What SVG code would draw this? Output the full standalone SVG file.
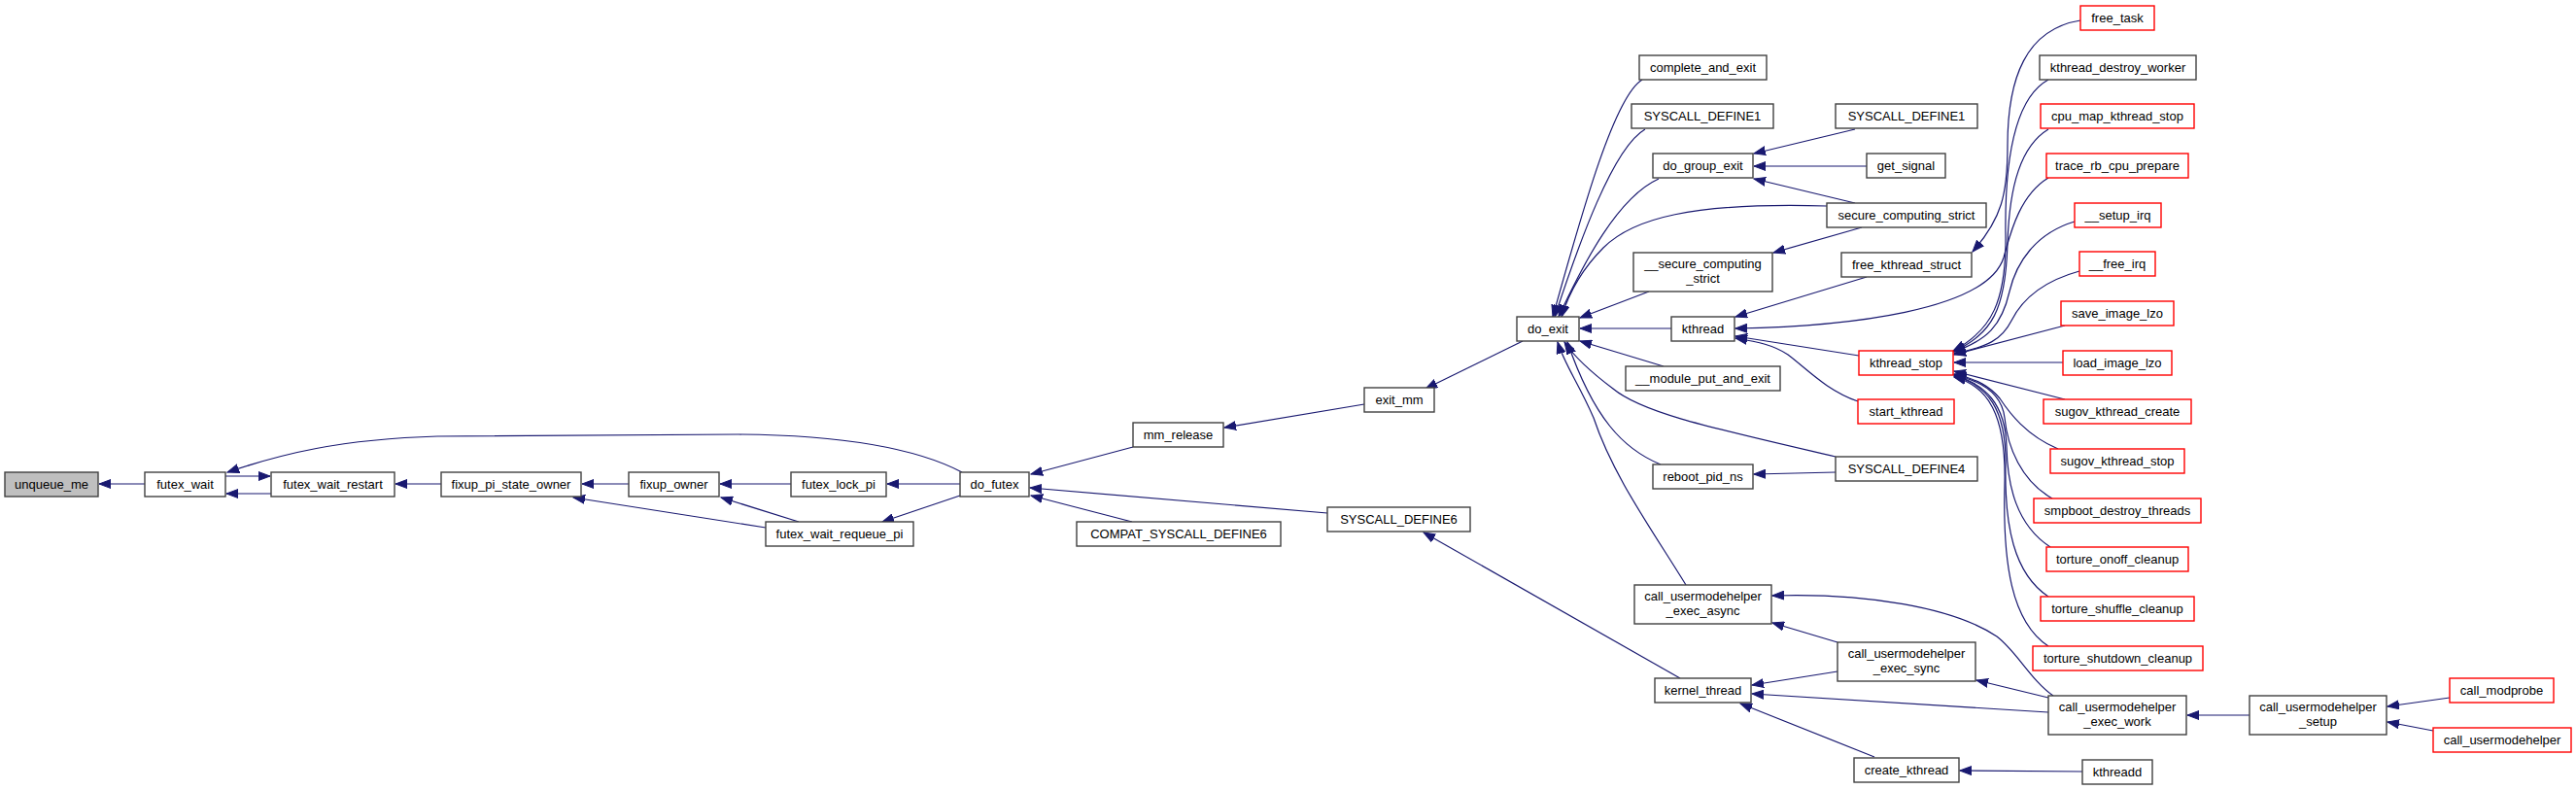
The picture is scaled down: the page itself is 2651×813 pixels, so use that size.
<svg xmlns="http://www.w3.org/2000/svg" width="2651" height="813" viewBox="0 0 2651 813">
<style>
.n rect{fill:#fff;stroke:#404040;stroke-width:1.4}
.n.r rect{stroke:#ff0000}
.n.g rect{fill:#bfbfbf}
.n text{font-family:"Liberation Sans",Arial,sans-serif;font-size:13px;fill:#000;text-anchor:middle}
#edges path{fill:none;stroke:#191970;stroke-width:1.2;marker-end:url(#ah)}
</style>
<defs>
<marker id="ah" markerUnits="userSpaceOnUse" markerWidth="13" markerHeight="10" refX="12" refY="5" orient="auto">
<path d="M0,0.5 L12,5 L0,9.5 z" fill="#191970" stroke="#191970" stroke-width="1"/>
</marker>
</defs>
<rect width="2651" height="813" fill="#fff"/>
<g id="edges">
<path d="M149,498 L102,498"/>
<path d="M232,490 L278,490"/>
<path d="M279,508 L233,508"/>
<path d="M990,486 C950,465 880,448 760,447 L450,449 C350,452 290,467 234,486"/>
<path d="M454,498 L407,498"/>
<path d="M647,498 L599,498"/>
<path d="M788,543 L590,512"/>
<path d="M822,537 L742,512"/>
<path d="M814,498 L741,498"/>
<path d="M988,498 L913,498"/>
<path d="M988,510 L908,537"/>
<path d="M1166,460 L1061,488"/>
<path d="M1165,537 L1061,510"/>
<path d="M1366,528 L1060,502"/>
<path d="M1404,416 L1260,440"/>
<path d="M1567,351 L1467,400"/>
<path d="M1729,698 L1465,548"/>
<path d="M1690,82 C1660,100 1625,230 1598,326"/>
<path d="M1693,133 C1660,152 1625,250 1600,326"/>
<path d="M1707,184 C1665,203 1630,270 1604,326"/>
<path d="M1880,212 C1740,208 1680,225 1650,255 C1630,275 1615,300 1607,326"/>
<path d="M1697,300 L1626,327"/>
<path d="M1720,338 L1626,338"/>
<path d="M1712,377 L1626,351"/>
<path d="M1709,478 C1670,462 1640,430 1613,352"/>
<path d="M1889,470 C1760,440 1690,425 1660,400 C1640,385 1622,370 1610,352"/>
<path d="M1735,602 C1700,545 1660,490 1640,430 C1625,395 1610,375 1603,352"/>
<path d="M1889,486 L1805,488"/>
<path d="M1909,133 L1805,158"/>
<path d="M1921,171 L1805,171"/>
<path d="M1909,209 L1805,184"/>
<path d="M1916,234 L1825,260"/>
<path d="M1921,285 L1786,326"/>
<path d="M2108,183 C2080,200 2070,235 2062,265 C2045,320 1900,336 1786,338"/>
<path d="M1913,366 L1786,346"/>
<path d="M1912,413 C1880,402 1860,380 1840,365 C1825,355 1810,352 1786,348"/>
<path d="M2141,21 C2085,30 2066,80 2066,150 C2066,200 2060,225 2030,259"/>
<path d="M2108,82 C2075,100 2063,160 2064,240 C2065,310 2050,340 2010,361"/>
<path d="M2108,133 C2080,150 2068,190 2066,250 C2064,320 2050,343 2010,362"/>
<path d="M2135,228 C2095,240 2075,270 2068,300 C2060,335 2045,350 2011,362"/>
<path d="M2140,279 C2100,290 2080,310 2070,330 C2060,350 2045,357 2011,364"/>
<path d="M2125,335 L2011,365"/>
<path d="M2123,373 L2011,373"/>
<path d="M2125,411 L2011,382"/>
<path d="M2118,462 C2085,448 2068,425 2058,410 C2048,398 2035,390 2011,385"/>
<path d="M2112,513 C2080,495 2066,460 2063,430 C2060,405 2040,392 2011,386"/>
<path d="M2110,563 C2075,540 2066,500 2065,460 C2064,415 2042,395 2011,386"/>
<path d="M2108,614 C2072,590 2063,540 2064,480 C2065,420 2045,396 2011,387"/>
<path d="M2108,665 C2070,640 2061,580 2063,500 C2065,425 2045,397 2011,388"/>
<path d="M2113,716 C2090,700 2075,670 2055,655 C2010,625 1920,610 1824,613"/>
<path d="M2108,718 L2034,700"/>
<path d="M2108,733 L1803,714"/>
<path d="M1891,691 L1803,705"/>
<path d="M1891,661 L1824,641"/>
<path d="M1929,779 L1791,724"/>
<path d="M2143,794 L2017,793"/>
<path d="M2315,736 L2251,736"/>
<path d="M2521,718 L2457,727"/>
<path d="M2504,752 L2457,743"/>
</g>
<g id="n_unqueue_me" class="n g"><rect x="5" y="486" width="96" height="25"/><text x="53" y="503">unqueue_me</text></g>
<g id="n_futex_wait" class="n"><rect x="149" y="486" width="83" height="25"/><text x="190.5" y="503">futex_wait</text></g>
<g id="n_futex_wait_restart" class="n"><rect x="279" y="486" width="127" height="25"/><text x="342.5" y="503">futex_wait_restart</text></g>
<g id="n_fixup_pi_state_owner" class="n"><rect x="454" y="486" width="144" height="25"/><text x="526" y="503">fixup_pi_state_owner</text></g>
<g id="n_fixup_owner" class="n"><rect x="647" y="486" width="93" height="25"/><text x="693.5" y="503">fixup_owner</text></g>
<g id="n_futex_lock_pi" class="n"><rect x="814" y="486" width="98" height="25"/><text x="863" y="503">futex_lock_pi</text></g>
<g id="n_futex_wait_requeue_pi" class="n"><rect x="788" y="537" width="152" height="25"/><text x="864" y="554">futex_wait_requeue_pi</text></g>
<g id="n_do_futex" class="n"><rect x="988" y="486" width="71" height="25"/><text x="1023.5" y="503">do_futex</text></g>
<g id="n_mm_release" class="n"><rect x="1166" y="435" width="93" height="25"/><text x="1212.5" y="452">mm_release</text></g>
<g id="n_compat_syscall_define6" class="n"><rect x="1108" y="537" width="210" height="25"/><text x="1213" y="554">COMPAT_SYSCALL_DEFINE6</text></g>
<g id="n_syscall_define6" class="n"><rect x="1366" y="522" width="147" height="25"/><text x="1439.5" y="539">SYSCALL_DEFINE6</text></g>
<g id="n_exit_mm" class="n"><rect x="1404" y="399" width="72" height="25"/><text x="1440" y="416">exit_mm</text></g>
<g id="n_do_exit" class="n"><rect x="1561" y="326" width="64" height="25"/><text x="1593" y="343">do_exit</text></g>
<g id="n_complete_and_exit" class="n"><rect x="1687" y="57" width="131" height="25"/><text x="1752.5" y="74">complete_and_exit</text></g>
<g id="n_syscall_define1_a" class="n"><rect x="1679" y="107" width="146" height="25"/><text x="1752" y="124">SYSCALL_DEFINE1</text></g>
<g id="n_do_group_exit" class="n"><rect x="1701" y="158" width="103" height="25"/><text x="1752.5" y="175">do_group_exit</text></g>
<g id="n___secure_computing_strict" class="n"><rect x="1681" y="260" width="143" height="40"/><text x="1752.5" y="276">__secure_computing</text><text x="1752.5" y="291">_strict</text></g>
<g id="n_kthread" class="n"><rect x="1720" y="326" width="65" height="25"/><text x="1752.5" y="343">kthread</text></g>
<g id="n___module_put_and_exit" class="n"><rect x="1673" y="377" width="159" height="25"/><text x="1752.5" y="394">__module_put_and_exit</text></g>
<g id="n_reboot_pid_ns" class="n"><rect x="1701" y="478" width="103" height="25"/><text x="1752.5" y="495">reboot_pid_ns</text></g>
<g id="n_call_usermodehelper_exec_async" class="n"><rect x="1682" y="602" width="141" height="40"/><text x="1752.5" y="618">call_usermodehelper</text><text x="1752.5" y="633">_exec_async</text></g>
<g id="n_kernel_thread" class="n"><rect x="1703" y="698" width="99" height="25"/><text x="1752.5" y="715">kernel_thread</text></g>
<g id="n_syscall_define1_b" class="n"><rect x="1889" y="107" width="146" height="25"/><text x="1962" y="124">SYSCALL_DEFINE1</text></g>
<g id="n_get_signal" class="n"><rect x="1921" y="158" width="81" height="25"/><text x="1961.5" y="175">get_signal</text></g>
<g id="n_secure_computing_strict" class="n"><rect x="1880" y="209" width="164" height="25"/><text x="1962" y="226">secure_computing_strict</text></g>
<g id="n_free_kthread_struct" class="n"><rect x="1895" y="260" width="134" height="25"/><text x="1962" y="277">free_kthread_struct</text></g>
<g id="n_kthread_stop" class="n r"><rect x="1913" y="361" width="97" height="25"/><text x="1961.5" y="378">kthread_stop</text></g>
<g id="n_start_kthread" class="n r"><rect x="1912" y="411" width="99" height="25"/><text x="1961.5" y="428">start_kthread</text></g>
<g id="n_syscall_define4" class="n"><rect x="1889" y="470" width="146" height="25"/><text x="1962" y="487">SYSCALL_DEFINE4</text></g>
<g id="n_call_usermodehelper_exec_sync" class="n"><rect x="1891" y="661" width="142" height="40"/><text x="1962" y="677">call_usermodehelper</text><text x="1962" y="692">_exec_sync</text></g>
<g id="n_create_kthread" class="n"><rect x="1908" y="780" width="108" height="25"/><text x="1962" y="797">create_kthread</text></g>
<g id="n_free_task" class="n r"><rect x="2141" y="6" width="76" height="25"/><text x="2179" y="23">free_task</text></g>
<g id="n_kthread_destroy_worker" class="n"><rect x="2099" y="57" width="161" height="25"/><text x="2179.5" y="74">kthread_destroy_worker</text></g>
<g id="n_cpu_map_kthread_stop" class="n r"><rect x="2100" y="107" width="158" height="25"/><text x="2179" y="124">cpu_map_kthread_stop</text></g>
<g id="n_trace_rb_cpu_prepare" class="n r"><rect x="2106" y="158" width="146" height="25"/><text x="2179" y="175">trace_rb_cpu_prepare</text></g>
<g id="n___setup_irq" class="n r"><rect x="2135" y="209" width="89" height="25"/><text x="2179.5" y="226">__setup_irq</text></g>
<g id="n___free_irq" class="n r"><rect x="2140" y="259" width="78" height="25"/><text x="2179" y="276">__free_irq</text></g>
<g id="n_save_image_lzo" class="n r"><rect x="2121" y="310" width="116" height="25"/><text x="2179" y="327">save_image_lzo</text></g>
<g id="n_load_image_lzo" class="n r"><rect x="2123" y="361" width="112" height="25"/><text x="2179" y="378">load_image_lzo</text></g>
<g id="n_sugov_kthread_create" class="n r"><rect x="2103" y="411" width="152" height="25"/><text x="2179" y="428">sugov_kthread_create</text></g>
<g id="n_sugov_kthread_stop" class="n r"><rect x="2110" y="462" width="138" height="25"/><text x="2179" y="479">sugov_kthread_stop</text></g>
<g id="n_smpboot_destroy_threads" class="n r"><rect x="2093" y="513" width="172" height="25"/><text x="2179" y="530">smpboot_destroy_threads</text></g>
<g id="n_torture_onoff_cleanup" class="n r"><rect x="2106" y="563" width="146" height="25"/><text x="2179" y="580">torture_onoff_cleanup</text></g>
<g id="n_torture_shuffle_cleanup" class="n r"><rect x="2100" y="614" width="158" height="25"/><text x="2179" y="631">torture_shuffle_cleanup</text></g>
<g id="n_torture_shutdown_cleanup" class="n r"><rect x="2092" y="665" width="175" height="25"/><text x="2179.5" y="682">torture_shutdown_cleanup</text></g>
<g id="n_call_usermodehelper_exec_work" class="n"><rect x="2108" y="716" width="142" height="40"/><text x="2179" y="732">call_usermodehelper</text><text x="2179" y="747">_exec_work</text></g>
<g id="n_kthreadd" class="n"><rect x="2143" y="782" width="72" height="25"/><text x="2179" y="799">kthreadd</text></g>
<g id="n_call_usermodehelper_setup" class="n"><rect x="2315" y="716" width="141" height="40"/><text x="2385.5" y="732">call_usermodehelper</text><text x="2385.5" y="747">_setup</text></g>
<g id="n_call_modprobe" class="n r"><rect x="2521" y="698" width="107" height="25"/><text x="2574.5" y="715">call_modprobe</text></g>
<g id="n_call_usermodehelper" class="n r"><rect x="2504" y="749" width="142" height="25"/><text x="2575" y="766">call_usermodehelper</text></g>
</svg>
